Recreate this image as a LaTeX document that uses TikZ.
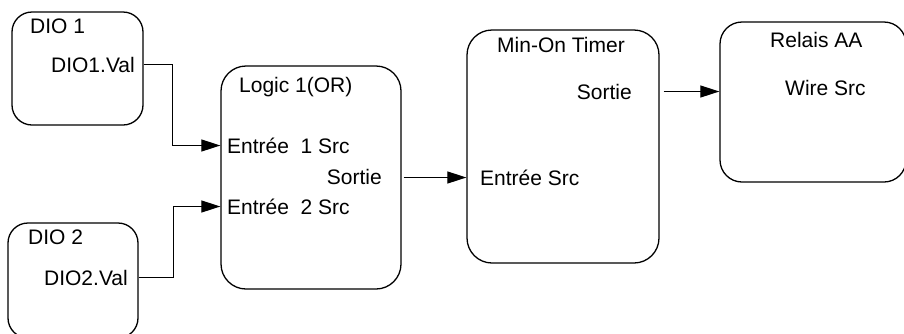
\documentclass[tikz,border=0pt]{standalone}
\usepackage{fontspec}
\setmainfont{Liberation Sans}
\usetikzlibrary{arrows.meta}
\begin{document}
\begin{tikzpicture}[x=1pt,y=-1pt,
  blockbox/.style={draw=black,line width=1.3pt,rounded corners=#1,inner sep=0pt},
  blockbox/.default=22pt,
  lbl/.style={inner sep=0pt,font=\fontsize{21}{24}\selectfont,text height=15pt,text depth=0pt},
  wire/.style={draw=black,line width=1.2pt,-{Triangle[length=19pt,width=12pt]}}]
\useasboundingbox (0,0) rectangle (904,333);
\clip (0,0) rectangle (904,333);
% boxes
\node[blockbox=20pt,minimum width=131pt,minimum height=113pt] (dio1) at (77.5,68.5) {};
\node[blockbox=20pt,minimum width=130pt,minimum height=115pt] (dio2) at (73,280.5) {};
\node[blockbox=25pt,minimum width=180pt,minimum height=223pt] (logic) at (311,177.5) {};
\node[blockbox=25pt,minimum width=192pt,minimum height=233pt] (timer) at (563,146.5) {};
\node[blockbox=22pt,minimum width=186pt,minimum height=160pt] (relais) at (813,102) {};
% labels
\node[lbl,anchor=west] (t1) at (30,25.5) {DIO 1};
\node[lbl,anchor=east] (d1v) at (135,64.5) {DIO1.Val};
\node[lbl,anchor=west] (t2) at (28,236.5) {DIO 2};
\node[lbl,anchor=east] (d2v) at (128,277.5) {DIO2.Val};
\node[lbl,anchor=west] (tl) at (239,84.5) {Logic 1(OR)};
\node[lbl,anchor=west] (in1) at (227,145.5) {Entrée\ \ 1 Src};
\node[lbl,anchor=east] (lsort) at (382,176.5) {Sortie};
\node[lbl,anchor=west] (in2) at (227,206.5) {Entrée\ \ 2 Src};
\node[lbl,anchor=west] (tt) at (497,44.5) {Min-On Timer};
\node[lbl,anchor=east] (tsort) at (632,91.5) {Sortie};
\node[lbl,anchor=west] (tin) at (480,177.5) {Entrée Src};
\node[lbl,anchor=west] (tr) at (770,39.5) {Relais AA};
\node[lbl,anchor=west] (rin) at (785,87.5) {Wire Src};
% connectors
\draw[wire] (dio1.east |- d1v) -- ++(29,0) |- (logic.west |- in1);
\draw[wire] (dio2.east |- d2v) -- ++(35,0) |- (logic.west |- in2);
\draw[wire,shorten <=2pt] (logic.east |- tin) -- (timer.west |- tin);
\draw[wire,shorten <=4pt] (timer.east |- tsort) -- (relais.west |- tsort);
\end{tikzpicture}
\end{document}
